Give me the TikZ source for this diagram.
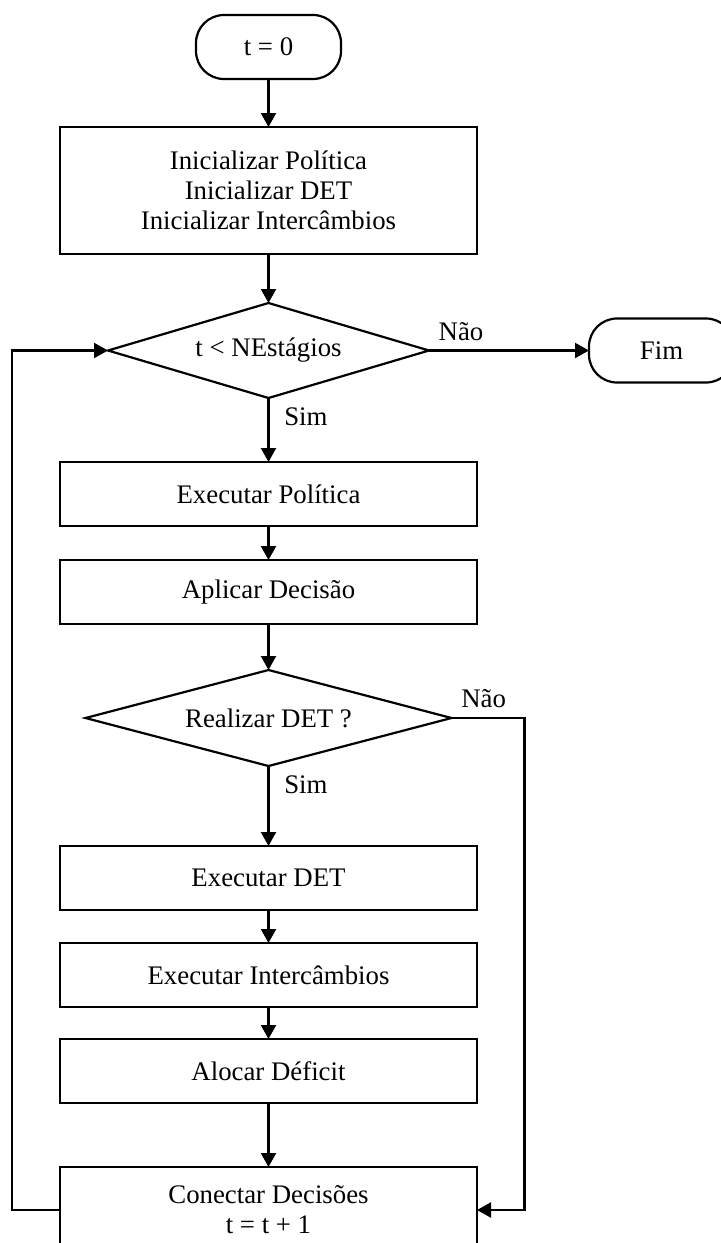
\documentclass[tikz,border=0pt]{standalone}
\usepackage{fontspec}
\setmainfont{Liberation Serif}
\usetikzlibrary{shapes, arrows.meta, positioning}

\begin{document}
\begin{tikzpicture}[
	x=0.5pt, y=-0.5pt,
	font=\fontsize{13.4}{15}\selectfont,
	terminal/.style={rectangle, draw, rounded corners=14pt, minimum width=72.5pt, minimum height=32pt, outer sep=0pt, line width=1.1pt},
	processo/.style={rectangle, draw, minimum width=208.5pt, minimum height=32pt, outer sep=0pt, line width=1.1pt, align=center},
	decisao/.style={diamond, draw, inner sep=0pt, outer sep=0pt, line width=1.1pt},
	arrow/.style={-{Triangle[length=7pt, width=7.5pt]}, line width=1.1pt}
	]
	
	\useasboundingbox (0,0) rectangle (721,1243);
	
	% Início
	\node[terminal] (inicio) at (268.5,47) {t = 0};
	
	% Inicializações
	\node[processo, minimum height=63.5pt, below=24pt of inicio] (init) {Inicializar Política\\Inicializar DET\\Inicializar Intercâmbios};
	
	% Teste do estágio
	\node[decisao, aspect=3.4, minimum width=160.5pt, minimum height=47.5pt, below=24.5pt of init] (estagios) {t < NEstágios};
	\node[terminal, right=80pt of estagios] (fim) {Fim};
	
	% Política
	\node[processo, below=32pt of estagios] (exepol) {Executar Política};
	\node[processo, below=17pt of exepol] (aplic) {Aplicar Decisão};
	
	% Teste do DET
	\node[decisao, aspect=3.8, minimum width=183pt, minimum height=48pt, below=23pt of aplic] (realizar) {Realizar DET ?};
	
	% DET e intercâmbios
	\node[processo, below=40pt of realizar] (exedet) {Executar DET};
	\node[processo, below=16.5pt of exedet] (exeint) {Executar Intercâmbios};
	\node[processo, below=16pt of exeint] (aloc) {Alocar Déficit};
	\node[processo, minimum height=43pt, below=32pt of aloc] (conect) {Conectar Decisões\\t = t + 1};
	
	% Conexões
	\draw[arrow] (inicio) -- (init);
	\draw[arrow] (init) -- (estagios);
	\draw[arrow] (estagios.east) -- node[pos=0.2, above=1pt] {Não} (fim.west);
	\draw[arrow] (estagios) -- node[pos=0.3, right=4pt] {Sim} (exepol);
	\draw[arrow] (exepol) -- (aplic);
	\draw[arrow] (aplic) -- (realizar);
	\draw[arrow] (realizar) -- node[pos=0.24, right=4pt] {Sim} (exedet);
	\draw[arrow] (exedet) -- (exeint);
	\draw[arrow] (exeint) -- (aloc);
	\draw[arrow] (aloc) -- (conect);
	\draw[arrow] (realizar.east) -- node[pos=0.44, above=1pt] {Não} ++(73,0) |- (conect.east);
	\draw[arrow] (conect.west) -- ++(-48,0) |- (estagios.west);
	
\end{tikzpicture}
\end{document}
